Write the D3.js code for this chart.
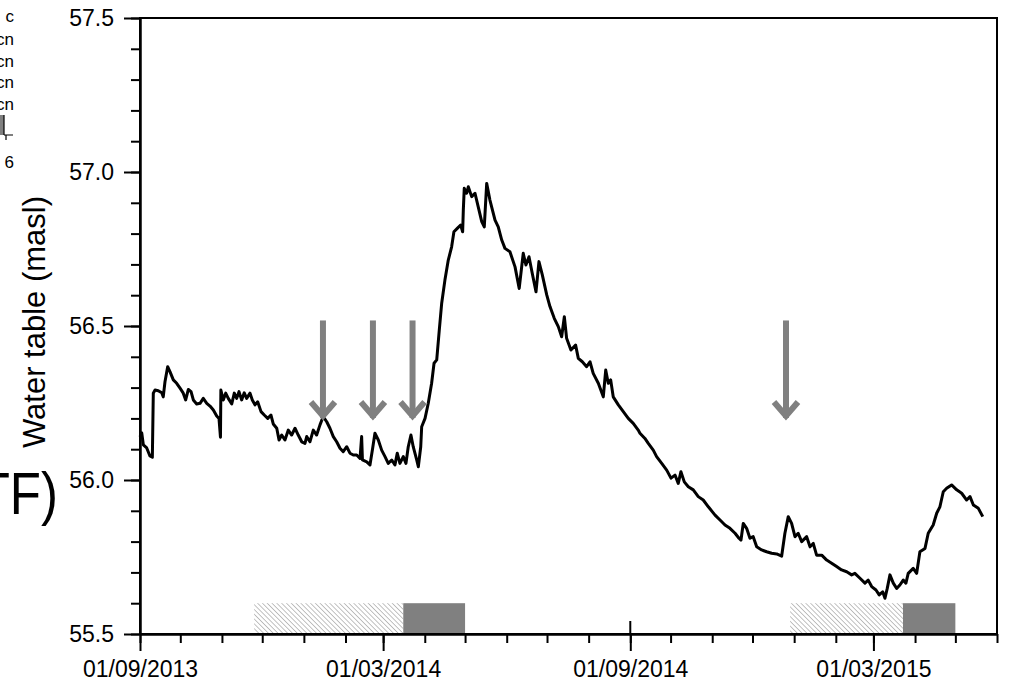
<!DOCTYPE html>
<html><head><meta charset="utf-8">
<script src="https://cdn.jsdelivr.net/npm/d3@7"></script>
<style>
body{margin:0;background:#fff}
svg{display:block;font-family:"Liberation Sans",Arial,sans-serif}
</style>
</head><body>
<svg id="chart" width="1010" height="685"></svg>
<script>
// ---------------- data ----------------
const seriesStart = "2013-09-01";
// [days since 2013-09-01, water table (masl)]
const waterTableReadings = [
[0,56.140],[1.3,56.153],[2.5,56.114],[5.0,56.104],[7.4,56.078],[9.2,56.074],[9.9,56.282],[11.2,56.292],[13.6,56.290],[16.2,56.283],[17.3,56.270],[18.6,56.319],[20.6,56.368],[22.3,56.352],[24.8,56.325],[27.3,56.314],[29.8,56.298],[32.2,56.282],[34.0,56.260],[36.0,56.294],[38.0,56.287],[39.7,56.260],[42.2,56.247],[44.7,56.249],[47.1,56.265],[49.7,56.249],[52.1,56.240],[54.6,56.227],[57.1,56.208],[58.8,56.200],[59.9,56.139],[60.2,56.292],[62.0,56.260],[63.8,56.282],[65.7,56.265],[68.3,56.247],[70.2,56.282],[72.0,56.265],[73.7,56.287],[75.7,56.260],[77.6,56.283],[79.4,56.265],[81.9,56.282],[83.6,56.260],[85.6,56.244],[87.6,56.254],[90.1,56.222],[92.5,56.211],[95.1,56.200],[97.5,56.211],[99.2,56.182],[101.8,56.168],[103.5,56.130],[105.5,56.146],[107.9,56.130],[110.4,56.162],[112.9,56.146],[115.4,56.168],[117.8,56.146],[120.4,56.124],[122.8,56.119],[124.1,56.141],[126.5,56.124],[129.0,56.162],[131.5,56.146],[134.0,56.179],[136.4,56.206],[139.0,56.189],[141.4,56.168],[143.9,56.141],[146.4,56.124],[148.9,56.103],[151.3,56.092],[153.9,56.108],[156.3,56.087],[158.8,56.081],[161.3,56.081],[163.8,56.070],[165.0,56.141],[165.6,56.065],[168.8,56.059],[171.2,56.049],[173.2,56.103],[174.9,56.152],[177.4,56.130],[179.9,56.097],[182.4,56.076],[184.8,56.054],[187.4,56.065],[189.8,56.049],[191.5,56.087],[193.5,56.054],[196.0,56.076],[198.0,56.054],[199.7,56.108],[201.7,56.146],[203.4,56.108],[206.0,56.065],[207.2,56.043],[209.0,56.108],[209.7,56.173],[212.2,56.200],[214.6,56.249],[217.1,56.314],[218.9,56.379],[220.9,56.390],[222.8,56.487],[224.6,56.574],[227.0,56.649],[229.5,56.714],[232.0,56.757],[233.7,56.806],[236.2,56.817],[238.7,56.828],[240.2,56.806],[240.7,56.877],[241.4,56.947],[243.2,56.931],[244.4,56.952],[246.9,56.920],[249.4,56.931],[251.8,56.887],[254.4,56.839],[256.3,56.822],[258.1,56.963],[260.5,56.909],[264.3,56.844],[266.7,56.822],[269.3,56.779],[271.7,56.752],[275.4,56.741],[279.2,56.692],[282.3,56.622],[285.3,56.736],[287.3,56.698],[289.6,56.725],[292.0,56.671],[294.8,56.611],[297.0,56.709],[299.5,56.666],[302.8,56.601],[305.2,56.563],[308.4,56.525],[311.4,56.498],[313.9,56.465],[315.9,56.530],[317.6,56.460],[320.8,56.422],[324.3,56.438],[326.3,56.395],[329.3,56.384],[332.5,56.368],[335.0,56.384],[337.4,56.346],[341.2,56.314],[344.9,56.270],[346.7,56.357],[348.6,56.314],[350.4,56.325],[352.3,56.270],[356.1,56.244],[359.8,56.222],[363.5,56.200],[367.2,56.184],[370.9,56.162],[372.2,56.152],[375.9,56.135],[378.4,56.119],[382.1,56.097],[384.6,56.076],[388.4,56.054],[392.1,56.032],[395.3,56.006],[398.3,56.016],[400.7,55.989],[402.7,56.027],[405.2,55.994],[408.2,55.978],[411.9,55.968],[415.6,55.946],[419.3,55.935],[423.1,55.913],[428.1,55.886],[431.8,55.870],[435.5,55.854],[439.2,55.843],[443.0,55.827],[445.9,55.811],[447.4,55.805],[449.1,55.859],[451.6,55.843],[454.1,55.811],[456.5,55.816],[459.1,55.783],[462.8,55.773],[466.5,55.767],[470.2,55.762],[474.0,55.760],[477.7,55.753],[480.1,55.827],[482.6,55.881],[485.1,55.859],[487.6,55.816],[490.0,55.827],[492.6,55.800],[496.3,55.816],[498.8,55.783],[501.2,55.794],[503.7,55.756],[507.5,55.756],[511.2,55.740],[514.9,55.730],[518.6,55.719],[522.3,55.708],[526.1,55.702],[529.8,55.692],[532.2,55.697],[536.0,55.681],[539.7,55.665],[542.1,55.675],[544.7,55.654],[547.9,55.643],[550.3,55.627],[552.9,55.637],[554.6,55.616],[556.3,55.648],[558.3,55.692],[560.8,55.665],[563.3,55.648],[565.7,55.659],[568.2,55.675],[570.2,55.665],[571.9,55.697],[575.6,55.713],[578.2,55.697],[580.6,55.767],[584.4,55.778],[586.8,55.827],[590.5,55.854],[593.1,55.892],[595.5,55.913],[598.0,55.962],[600.5,55.973],[604.2,55.984],[608.0,55.968],[611.7,55.957],[615.4,55.935],[617.9,55.946],[620.4,55.919],[624.1,55.908],[627.4,55.881]
];
const xDomain = ["2013-09-01", "2015-06-01"];
const xMajorTicks = ["2013-09-01", "2014-03-01", "2014-09-01", "2015-03-01"];
const yDomain = [55.5, 57.5];
const yMajorTicks = [55.5, 56.0, 56.5, 57.0, 57.5];
const yAxisTitle = "Water table (masl)";
// recharge event arrows (days since start), drawn from arrowTop down to arrowTip (masl)
const arrowDays = [136.2, 173.4, 202.9, 480.9];
const arrowTop = 56.518, arrowTip = 56.195;
const hatchedPeriods = [["2013-11-25", "2014-03-16"], ["2014-12-29", "2015-03-23"]];
const solidPeriods = [["2014-03-16", "2014-05-01"], ["2015-03-23", "2015-05-01"]];
const periodTop = 55.6;
// fragments of the neighbouring panel visible at the left edge
const sideFragments = ["c", "cn", "cn", "cn", "cn", "6"];
const sideTitle = "TF)";

// ---------------- drawing ----------------
const parse = d3.timeParse("%Y-%m-%d");
const t0 = parse(seriesStart);
const dayToDate = d => new Date(t0.getTime() + d * 864e5);

const svg = d3.select("#chart");
const M = {left: 140, right: 997, top: 18, bottom: 634};

const x = d3.scaleTime().domain(xDomain.map(parse)).range([M.left, M.right]);
const y = d3.scaleLinear().domain(yDomain).range([M.bottom, M.top]);

const defs = svg.append("defs");
const pat = defs.append("pattern").attr("id", "hatch")
  .attr("patternUnits", "userSpaceOnUse").attr("width", 3.4).attr("height", 3.4)
  .attr("patternTransform", "rotate(-45)");
pat.append("line").attr("x1", 0).attr("y1", 0).attr("x2", 0).attr("y2", 3.4)
  .attr("stroke", "#a0a0a0").attr("stroke-width", 1.3);

// period bars
svg.append("g").selectAll("rect").data(hatchedPeriods).join("rect")
  .attr("x", d => x(parse(d[0]))).attr("width", d => x(parse(d[1])) - x(parse(d[0])))
  .attr("y", y(periodTop)).attr("height", y(yDomain[0]) - y(periodTop))
  .attr("fill", "url(#hatch)");
svg.append("g").selectAll("rect").data(solidPeriods).join("rect")
  .attr("x", d => x(parse(d[0]))).attr("width", d => x(parse(d[1])) - x(parse(d[0])))
  .attr("y", y(periodTop)).attr("height", y(yDomain[0]) - y(periodTop))
  .attr("fill", "#808080");

// frame
svg.append("rect").attr("x", M.left).attr("y", M.top)
  .attr("width", M.right - M.left).attr("height", M.bottom - M.top)
  .attr("fill", "none").attr("stroke", "#000").attr("stroke-width", 2);

const fontSize = 23;
// x minor
const gxm = svg.append("g").attr("transform", `translate(0,${M.bottom})`)
  .call(d3.axisBottom(x).ticks(d3.timeMonth.every(1)).tickSize(9).tickSizeOuter(0).tickFormat(""));
// x major
const gx = svg.append("g").attr("transform", `translate(0,${M.bottom})`)
  .call(d3.axisBottom(x).tickValues(xMajorTicks.map(parse)).tickSize(17).tickSizeOuter(0)
    .tickPadding(10).tickFormat(d3.timeFormat("%d/%m/%Y")));
// y minor
const yMinor = d3.range(555, 576).map(v => v / 10);
const gym = svg.append("g").attr("transform", `translate(${M.left},0)`)
  .call(d3.axisLeft(y).tickValues(yMinor).tickSize(9).tickSizeOuter(0).tickFormat(""));
const gy = svg.append("g").attr("transform", `translate(${M.left},0)`)
  .call(d3.axisLeft(y).tickValues(yMajorTicks).tickSize(16).tickSizeOuter(0)
    .tickPadding(10).tickFormat(d3.format(".1f")));
[gxm, gx, gym, gy].forEach(g => {
  g.select(".domain").attr("stroke", "#000").attr("stroke-width", 2);
  g.selectAll(".tick line").attr("stroke", "#000").attr("stroke-width", 2);
  g.selectAll(".tick text").attr("font-size", fontSize).attr("fill", "#000")
    .attr("font-family", '"Liberation Sans",Arial,sans-serif');
});
// inward tick at 01/09/2014
svg.append("line").attr("x1", x(parse(xMajorTicks[2]))).attr("x2", x(parse(xMajorTicks[2])))
  .attr("y1", M.bottom).attr("y2", M.bottom - 13).attr("stroke", "#000").attr("stroke-width", 2);

// axis title
svg.append("text").attr("transform", `translate(45,322) rotate(-90)`)
  .attr("text-anchor", "middle").attr("font-size", 31).attr("fill", "#000").text(yAxisTitle);

// line
const line = d3.line().x(d => x(dayToDate(d[0]))).y(d => y(d[1]));
svg.append("path").datum(waterTableReadings).attr("d", line)
  .attr("fill", "none").attr("stroke", "#000").attr("stroke-width", 3)
  .attr("stroke-linejoin", "round");

// arrows
const ag = svg.append("g").attr("stroke", "#808080").attr("stroke-width", 6).attr("fill", "none");
arrowDays.forEach(d => {
  const ax = x(dayToDate(d)), yt = y(arrowTop), yb = y(arrowTip);
  ag.append("path").attr("d", `M${ax},${yt}V${yb - 2}`);
  ag.append("path").attr("d", `M${ax - 12},${yb - 18}L${ax},${yb - 4}L${ax + 12},${yb - 18}`)
    .attr("stroke-linejoin", "miter");
});

// neighbouring-panel fragments
const fragY = [22, 45, 67, 88, 110, 168];
svg.append("g").selectAll("text").data(sideFragments).join("text")
  .attr("x", 14).attr("y", (d, i) => fragY[i]).attr("text-anchor", "end")
  .attr("font-size", 17).attr("fill", "#000").text(d => d);
svg.append("rect").attr("x", 0).attr("y", 115).attr("width", 4).attr("height", 20).attr("fill", "#808080");
svg.append("path").attr("d", "M4,135H13M6,135V140M4,115V135").attr("stroke", "#000").attr("stroke-width", 1.2).attr("fill", "none");
svg.append("text").attr("transform", "translate(58,514) scale(0.85,1)").attr("text-anchor", "end")
  .attr("font-size", 60).attr("fill", "#000").text(sideTitle);
</script>
</body></html>
